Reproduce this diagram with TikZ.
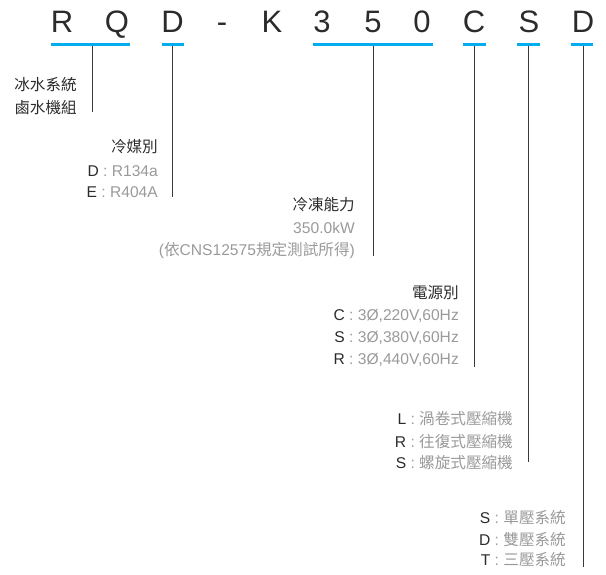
\documentclass[tikz,border=0pt]{standalone}
\usepackage{fontspec}
\setmainfont{Liberation Sans}
\newfontfamily\cjk{Noto Sans CJK TC}
\definecolor{lineblue}{HTML}{00AEEF}
\definecolor{dark}{HTML}{2B2B2B}
\definecolor{tickc}{HTML}{3A3A3A}
\definecolor{light}{HTML}{9A9A9A}
\begin{document}
\begin{tikzpicture}[x=1pt,y=-1pt,
  title/.style={anchor=base, font=\fontsize{31}{31}\selectfont, text=dark, inner sep=0pt},
  lbl/.style={anchor=base east, font=\fontsize{15.6}{15.6}\selectfont, text=dark, inner sep=0pt},
  uline/.style={draw=lineblue, line width=3pt},
  tick/.style={draw=tickc, line width=0.8pt}]
\useasboundingbox (0,0) rectangle (606,574);

% title letters
\node[title] (tR)  at (62,32)  {R};
\node[title] (tQ)  at (117,32) {Q};
\node[title] (tD)  at (172.5,32) {D};
\node[title] (tH)  at (222,32) {-};
\node[title] (tK)  at (272,32) {K};
\node[title] (t3)  at (322,32) {3};
\node[title] (t5)  at (373,32) {5};
\node[title] (t0)  at (422,32) {0};
\node[title] (tC)  at (474,32) {C};
\node[title] (tS)  at (529,32) {S};
\node[title] (tD2) at (583,32) {D};

% underlines
\coordinate (u1a) at (51,44);   \coordinate (u1b) at (130,44);
\coordinate (u2a) at (162,44);  \coordinate (u2b) at (184,44);
\coordinate (u3a) at (313,44);  \coordinate (u3b) at (433,44);
\coordinate (u4a) at (463,44);  \coordinate (u4b) at (486,44);
\coordinate (u5a) at (517,44);  \coordinate (u5b) at (540,44);
\coordinate (u6a) at (571,44);  \coordinate (u6b) at (593,44);
\draw[uline] (u1a) -- (u1b);
\draw[uline] (u2a) -- (u2b);
\draw[uline] (u3a) -- (u3b);
\draw[uline] (u4a) -- (u4b);
\draw[uline] (u5a) -- (u5b);
\draw[uline] (u6a) -- (u6b);

% ticks
\coordinate (m1) at (92,45.5);    \coordinate (e1) at (92,112);
\coordinate (m2) at (172.5,45.5); \coordinate (e2) at (172.5,197);
\coordinate (m3) at (373,45.5);   \coordinate (e3) at (373,256);
\coordinate (m4) at (474,45.5);   \coordinate (e4) at (474,367);
\coordinate (m5) at (528.5,45.5); \coordinate (e5) at (528.5,462);
\coordinate (m6) at (583,45.5);   \coordinate (e6) at (583,567);
\draw[tick] (m1) -- (e1);
\draw[tick] (m2) -- (e2);
\draw[tick] (m3) -- (e3);
\draw[tick] (m4) -- (e4);
\draw[tick] (m5) -- (e5);
\draw[tick] (m6) -- (e6);

% block 1
\node[lbl] (b1a) at (77,90.7)  {\cjk 冰水系統};
\node[lbl] (b1b) at (77,113.2) {\cjk 鹵水機組};

% block 2
\node[lbl] (b2h) at (158,152.7) {\cjk 冷媒別};
\node[lbl] (b2a) at (158,176)   {D {\color{light}: R134a}};
\node[lbl] (b2b) at (158,197)   {E {\color{light}: R404A}};

% block 3
\node[lbl] (b3h) at (355,210.7) {\cjk 冷凍能力};
\node[lbl] (b3a) at (355,233.3) {\color{light}350.0kW};
\node[lbl] (b3b) at (355,255.7) {\color{light}({\cjk 依}CNS12575{\cjk 規定測試所得})};

% block 4
\node[lbl] (b4h) at (459,298.7) {\cjk 電源別};
\node[lbl] (b4a) at (459,320.7) {C {\color{light}: 3Ø,220V,60Hz}};
\node[lbl] (b4b) at (459,342.5) {S {\color{light}: 3Ø,380V,60Hz}};
\node[lbl] (b4c) at (459,364)   {R {\color{light}: 3Ø,440V,60Hz}};

% block 5
\node[lbl] (b5a) at (513,424)   {L {\color{light}: {\cjk 渦卷式壓縮機}}};
\node[lbl] (b5b) at (513,447.3) {R {\color{light}: {\cjk 往復式壓縮機}}};
\node[lbl] (b5c) at (513,468.5) {S {\color{light}: {\cjk 螺旋式壓縮機}}};

% block 6
\node[lbl] (b6a) at (566,523.7) {S {\color{light}: {\cjk 單壓系統}}};
\node[lbl] (b6b) at (566,545)   {D {\color{light}: {\cjk 雙壓系統}}};
\node[lbl] (b6c) at (566,565.5) {T {\color{light}: {\cjk 三壓系統}}};
\end{tikzpicture}
\end{document}
